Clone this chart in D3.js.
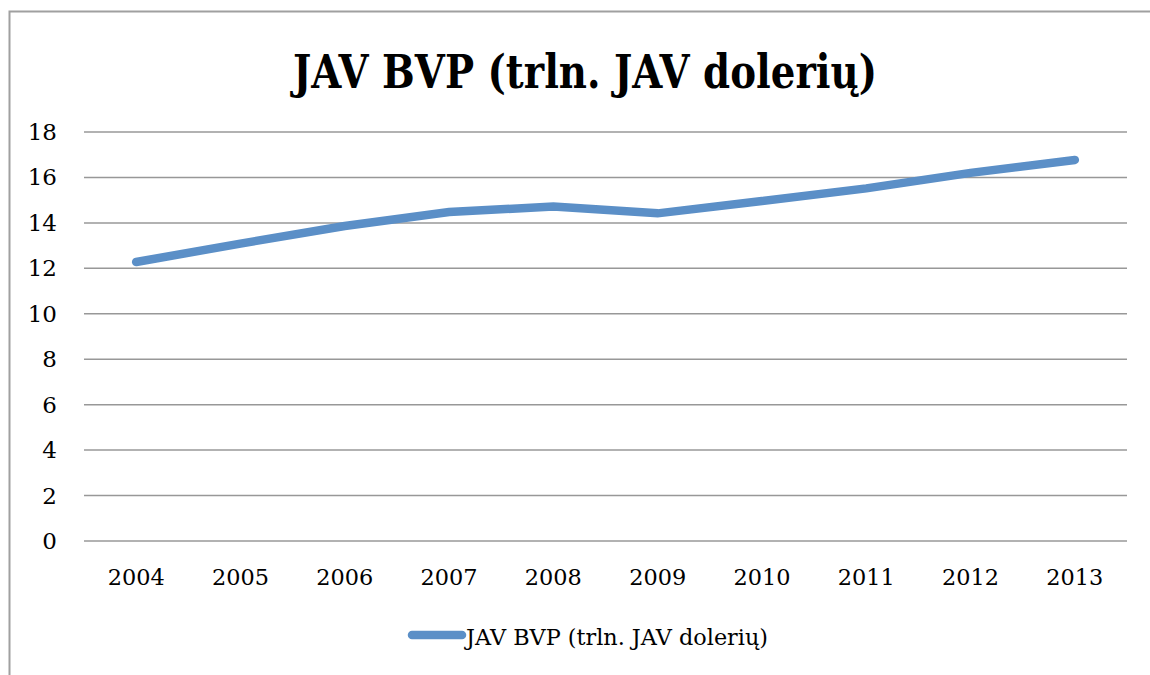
<!DOCTYPE html>
<html>
<head>
<meta charset="utf-8">
<script src="https://cdn.jsdelivr.net/npm/d3@7"></script>
<style>
  body { margin: 0; background: #fff; }
  text { font-family: "DejaVu Serif", "Liberation Serif", serif; fill: #000; }
</style>
</head>
<body>
<svg id="chart" width="1150" height="675"></svg>
<script>
'use strict';

const years = ['2004', '2005', '2006', '2007', '2008', '2009', '2010', '2011', '2012', '2013'];
const gdp = [12.28, 13.09, 13.86, 14.48, 14.72, 14.42, 14.96, 15.52, 16.2, 16.77];
const yTicks = [0, 2, 4, 6, 8, 10, 12, 14, 16, 18];
const title = 'JAV BVP (trln. JAV dolerių)';
const seriesName = 'JAV BVP (trln. JAV dolerių)';

const lineColor = '#5b8fc7';
const gridColor = '#989898';

const svg = d3.select('#chart');

// outer frame (only top and left edges visible)
svg.append('path')
  .attr('d', 'M9.5,675 L9.5,11.5 L1150,11.5')
  .attr('fill', 'none')
  .attr('stroke', '#a0a0a0')
  .attr('stroke-width', 2);

const plot = {left: 84, right: 1127, top: 132, bottom: 541};

const x = d3.scaleBand()
  .domain(years)
  .range([plot.left, plot.right]);

const y = d3.scaleLinear()
  .domain([0, 18])
  .range([plot.bottom, plot.top]);

// gridlines
svg.append('g')
  .selectAll('line')
  .data(yTicks)
  .join('line')
  .attr('x1', plot.left)
  .attr('x2', plot.right)
  .attr('y1', d => y(d))
  .attr('y2', d => y(d))
  .attr('stroke', gridColor)
  .attr('stroke-width', 1.5);

// y labels
svg.append('g')
  .selectAll('text')
  .data(yTicks)
  .join('text')
  .attr('x', 57)
  .attr('y', d => y(d) + 8)
  .attr('text-anchor', 'end')
  .attr('font-size', 23)
  .text(d => d);

// x labels
svg.append('g')
  .selectAll('text')
  .data(years)
  .join('text')
  .attr('x', d => x(d) + x.bandwidth() / 2)
  .attr('y', 585)
  .attr('text-anchor', 'middle')
  .attr('font-size', 23)
  .attr('textLength', 57)
  .attr('lengthAdjust', 'spacingAndGlyphs')
  .text(d => d);

// series line
const line = d3.line()
  .x((d, i) => x(years[i]) + x.bandwidth() / 2)
  .y(d => y(d));

svg.append('path')
  .datum(gdp)
  .attr('d', line)
  .attr('fill', 'none')
  .attr('stroke', lineColor)
  .attr('stroke-width', 8.5)
  .attr('stroke-linecap', 'round')
  .attr('stroke-linejoin', 'miter');

// title
svg.append('text')
  .attr('x', 293)
  .attr('y', 88)
  .attr('font-size', 46)
  .attr('font-weight', 'bold')
  .attr('textLength', 584)
  .attr('lengthAdjust', 'spacingAndGlyphs')
  .text(title);

// legend
const legend = svg.append('g');
legend.append('line')
  .attr('x1', 412)
  .attr('x2', 462)
  .attr('y1', 635)
  .attr('y2', 635)
  .attr('stroke', lineColor)
  .attr('stroke-width', 8.5)
  .attr('stroke-linecap', 'round');
legend.append('text')
  .attr('x', 466)
  .attr('y', 645)
  .attr('font-size', 23)
  .attr('textLength', 302)
  .attr('lengthAdjust', 'spacingAndGlyphs')
  .text(seriesName);
</script>
</body>
</html>
